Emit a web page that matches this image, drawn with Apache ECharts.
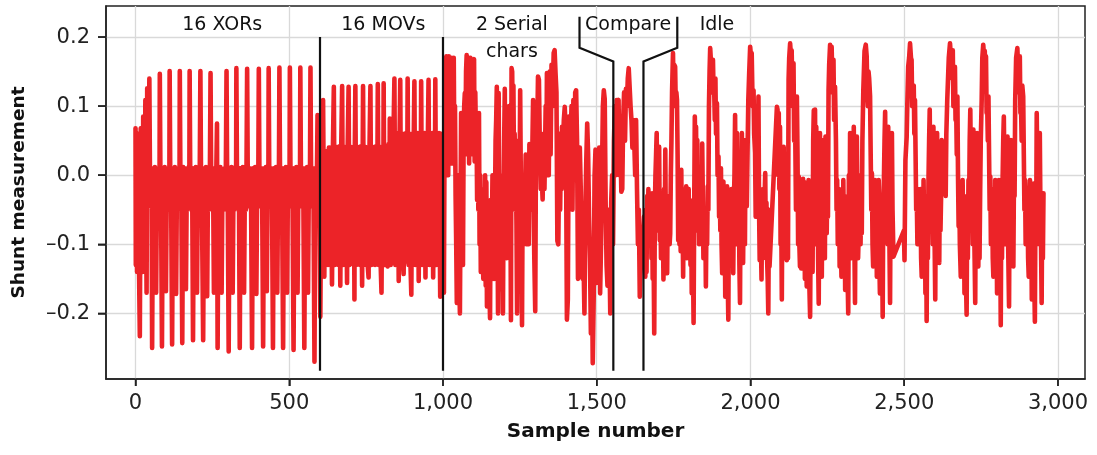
<!DOCTYPE html>
<html>
<head>
<meta charset="utf-8">
<script src="https://cdn.jsdelivr.net/npm/echarts@6.0.0/dist/echarts.min.js"></script>
<style>
html, body { margin: 0; padding: 0; background: #fff; }
#main { width: 1097px; height: 455px; }
</style>
</head>
<body>
<div id="main"></div>
<script>
// shunt trace as [sample, value]
var xorTrace = [
  [0,0.068],[1,-0.13],[3,-0.01],[5,-0.14],[8,0.06],[11,-0.12],[14,-0.233],[17,0.068],[19,-0.05],[21,0.0],[23,-0.14],[25,0.085],[27,-0.03],[29,-0.12],[32,0.109],[34,-0.02],[36,-0.17],[38,0.126],[40,-0.03],[43,0.0],
  [45,0.140],[47,0.0],[50,-0.045],[52,0.01],[54,-0.25],[57,0.008],[60,-0.05],[63,0.012],[67,-0.17],[70,0.004],[73,-0.048],[76,0.01],[78,-0.035],
  [79,0.147],[81,0.0],[83,-0.04],[86,-0.248],[89,0.01],[92,-0.05],[95,0.012],[99,-0.168],[102,0.006],[105,-0.05],[108,0.01],[110,-0.03],
  [111,0.151],[113,0.0],[116,-0.045],[119,-0.245],[122,0.01],[125,-0.05],[128,0.012],[132,-0.172],[135,0.005],[138,-0.048],[141,0.01],[143,-0.035],
  [144,0.151],[146,-0.005],[149,-0.04],[152,-0.243],[155,0.012],[158,-0.05],[161,0.01],[164,-0.165],[167,0.004],[170,-0.05],[173,0.012],[175,-0.03],
  [176,0.151],[178,0.0],[182,-0.045],[184,0.01],[187,-0.239],[190,0.01],[193,-0.05],[196,0.012],[200,-0.17],[203,0.005],[206,-0.048],[209,0.01],
  [211,0.151],[213,0.0],[216,-0.045],[220,-0.239],[223,0.01],[226,-0.05],[229,0.012],[233,-0.175],[236,0.004],[239,-0.05],[242,0.01],
  [244,0.148],[246,0.0],[249,-0.045],[252,0.01],[255,-0.17],[258,0.005],[261,-0.05],[265,0.075],[267,-0.25],[270,0.01],[273,-0.05],[276,0.012],[280,-0.17],[283,0.005],[287,-0.05],[290,0.01],[293,-0.04],
  [296,0.151],[298,0.0],[300,-0.04],[303,-0.255],[306,0.01],[309,-0.05],[312,0.012],[316,-0.17],[319,0.005],[322,-0.05],[325,0.012],[327,-0.03],
  [328,0.155],[330,0.0],[333,-0.045],[336,0.01],[339,-0.25],[342,0.01],[346,-0.05],[349,0.012],[353,-0.17],[356,0.005],[359,-0.05],[361,0.01],
  [363,0.154],[365,0.0],[369,-0.045],[372,0.01],[376,-0.05],[379,-0.25],[382,0.01],[386,-0.05],[389,0.012],[393,-0.172],[396,0.005],[399,-0.04],
  [401,0.154],[403,0.0],[406,-0.045],[409,0.01],[412,-0.04],[415,-0.248],[418,0.01],[421,-0.05],[424,0.012],[427,-0.168],[430,0.005],[432,-0.035],
  [433,0.155],[435,0.0],[438,-0.045],[441,0.01],[444,-0.04],[447,-0.25],[450,0.01],[454,-0.05],[457,0.012],[461,-0.17],[464,0.005],[466,-0.04],
  [468,0.156],[470,0.0],[473,-0.045],[476,0.01],[480,-0.25],[483,0.01],[486,-0.05],[489,0.012],[493,-0.17],[496,0.005],[499,-0.045],[501,0.0],
  [502,0.156],[504,0.0],[507,-0.045],[510,0.01],[514,-0.253],[517,0.01],[520,-0.05],[523,0.012],[527,-0.17],[530,0.005],[533,-0.045],[535,0.0],
  [536,0.156],[538,0.0],[541,-0.045],[544,0.01],[546,-0.04],[549,-0.25],[552,0.01],[555,-0.05],[558,0.012],[561,-0.17],[564,0.005],[567,-0.04],
  [569,0.156],[571,0.0],[574,-0.045],[577,0.01],[579,-0.04],[582,-0.27],[585,0.01],[588,-0.05],[590,0.0],[592,0.087],[595,-0.04],[598,0.0],[601,-0.205]
];

var movTrace = [
  [604,-0.02],[607,0.05],[610,0.109],[614,-0.147],[617,0.02],[620,-0.12],[623,0.035],[626,-0.13],[629,0.04],[632,-0.125],[635,0.04],[639,-0.158],[642,0.04],
  [645,0.128],[648,-0.13],[651,0.041],[654,-0.125],[657,0.04],[660,-0.13],[663,0.042],[666,-0.16],[669,0.04],
  [672,0.129],[675,-0.13],[678,0.041],[681,-0.125],[684,0.04],[688,-0.156],[690,0.04],
  [693,0.128],[696,-0.13],[699,0.041],[702,-0.128],[705,0.04],[708,-0.125],[710,0.041],[712,-0.18],[713,0.03],
  [715,0.129],[718,-0.13],[721,0.041],[724,-0.125],[727,0.04],[730,-0.13],[733,0.042],[737,-0.16],[739,0.04],
  [740,0.129],[743,-0.13],[746,0.041],[749,-0.125],[752,0.04],[755,-0.13],[758,-0.148],[761,0.04],
  [764,0.129],[767,-0.13],[770,0.041],[773,-0.125],[776,0.04],[779,-0.13],[782,0.042],[785,-0.125],[787,0.04],
  [788,0.132],[791,-0.13],[794,0.041],[797,-0.125],[800,-0.17],[803,0.04],[806,-0.02],
  [807,0.133],[810,-0.13],[813,0.041],[816,-0.125],[820,-0.132],[823,0.045],[826,-0.05],
  [827,0.082],[830,-0.13],[833,0.06],[836,-0.125],[839,0.06],
  [842,0.14],[845,-0.13],[848,0.06],[851,-0.125],[853,0.061],[856,-0.153],[859,0.06],
  [861,0.138],[864,-0.13],[867,0.06],[870,-0.128],[872,-0.143],[875,0.06],[878,-0.125],[881,0.061],[883,-0.1],
  [885,0.14],[888,-0.13],[891,0.06],[894,-0.125],[897,-0.173],[900,0.06],[903,-0.13],[905,0.058],
  [907,0.136],[910,-0.13],[913,0.06],[916,-0.125],[918,0.061],[921,-0.153],[924,0.06],[927,-0.12],
  [929,0.136],[932,-0.13],[935,0.06],[938,-0.125],[940,0.061],[943,-0.148],[946,0.06],[949,-0.13],[951,0.06],
  [953,0.138],[956,-0.13],[959,0.06],[962,-0.125],[965,0.061],[968,-0.148],[971,0.06],[973,-0.1],
  [975,0.139],[978,-0.13],[981,0.06],[984,-0.125],[987,0.061],[991,-0.176],[994,0.06],[997,-0.13],[1000,0.03]
];

var serialTrace = [
  [1003,-0.17],[1005,0.05],[1007,0.17],[1009,0.02],[1011,0.172],[1013,0.05],[1015,0.16],[1017,0.0],[1019,0.172],[1021,0.02],[1023,0.16],[1025,0.03],[1027,0.17],[1029,0.017],[1031,0.165],[1033,0.05],[1035,0.17],[1037,0.02],[1039,0.1],[1041,-0.03],[1043,-0.1],[1045,-0.185],[1047,-0.05],[1049,0.0],[1051,-0.12],[1053,-0.15],[1055,-0.2],[1057,-0.05],[1059,0.09],[1061,0.0],[1063,-0.1],[1065,-0.13],[1067,0.05],[1069,0.1],[1071,0.119],[1073,0.05],[1075,0.15],[1077,0.174],[1079,0.03],[1081,0.16],[1083,0.17],[1085,0.017],[1087,0.14],[1089,0.17],[1091,0.03],[1093,0.1],[1095,0.14],[1097,0.05],[1099,0.164],[1101,0.168],[1103,0.02],[1105,0.12],[1107,0.06],[1109,0.08],[1111,-0.036],[1113,0.056],[1115,-0.05],[1117,0.09],[1119,-0.1],[1121,0.0],[1123,-0.14],[1125,-0.03],[1127,-0.12],[1129,-0.05],[1131,-0.15],[1133,-0.02],[1135,-0.1],[1137,0.0],[1139,-0.16],[1141,-0.01],[1143,-0.19],[1145,-0.05],[1147,-0.15],[1149,-0.05],[1151,-0.16],[1153,-0.207],[1155,-0.036],[1157,-0.15],[1159,-0.08],[1161,0.0],[1163,-0.15],[1165,-0.03],[1167,-0.15],[1169,-0.05],[1171,0.05],[1173,0.08],[1175,0.128],[1177,-0.05],[1179,-0.2],[1181,0.119],[1183,-0.05],[1185,-0.165],[1187,0.0],[1189,-0.12],[1191,-0.02],[1193,-0.1],[1195,-0.2],[1197,-0.04],[1199,0.05],[1201,0.125],[1203,-0.1],[1205,0.03],[1207,-0.12],[1209,0.06],[1211,-0.05],[1213,0.06],[1215,0.1],[1217,-0.03],[1219,0.0],[1221,-0.21],[1223,0.155],[1225,0.15],[1227,0.06],[1229,0.13],[1231,0.0],[1233,0.06],[1235,-0.05],[1237,0.012],[1239,-0.07],[1241,-0.2],[1243,0.05],[1245,-0.05],[1247,0.05],[1249,-0.03],[1251,0.123],[1253,0.0],[1255,-0.1],[1257,-0.217],[1259,-0.03],[1261,-0.08],[1263,-0.01],[1265,-0.08],[1267,-0.02],[1269,0.03],[1271,-0.1],[1273,0.0],[1275,-0.1],[1277,0.0],[1279,-0.1],[1281,0.045],[1283,-0.03],[1285,0.02],[1287,-0.05],[1289,0.0],[1291,0.05],[1293,0.109],[1295,-0.05],[1297,-0.12],
  [1300,-0.197],[1302,0.0],[1303,0.061],[1306,0.05],[1309,0.143],[1312,0.138],[1315,0.04],[1318,-0.02],[1321,0.0],[1324,-0.035],[1327,0.06],[1330,-0.02],[1334,0.1],[1336,0.0],[1338,0.148],[1341,0.12],[1344,0.0],[1347,0.15],[1350,0.03],[1353,0.16],[1356,0.1],[1360,0.177],[1363,0.181],[1366,0.148],[1369,0.12],[1372,-0.095],[1375,-0.1],[1378,0.03],[1381,-0.05],[1384,0.061],[1386,-0.02],[1387,0.07],[1390,0.04],[1393,0.08],[1396,0.099],[1400,0.05],[1403,-0.209],[1406,-0.18],[1409,0.085],[1412,-0.01],[1415,0.05],[1418,0.1],[1421,-0.05],[1424,0.109],[1427,0.02],[1430,0.12],[1433,0.123],[1436,0.05],[1439,-0.15],[1442,-0.05],[1445,0.04],[1448,-0.02],[1451,-0.13],[1454,-0.15],[1457,-0.12],[1460,-0.2],[1463,-0.05],[1466,0.02],[1469,0.075],[1472,0.03],[1475,-0.06],[1478,-0.12],[1481,-0.229],[1484,-0.1],[1487,-0.272],[1490,-0.18],[1493,0.0],[1496,0.037],[1499,-0.156],[1502,0.0],[1505,-0.09],[1508,0.04],[1511,-0.171],[1514,-0.1],[1517,0.0],[1520,0.1],[1523,0.123],[1526,0.11],[1529,-0.04],[1532,-0.13],[1535,-0.16],[1538,-0.05],[1541,-0.1],[1544,-0.2],[1547,-0.04],[1550,0.0],[1553,-0.1]
];

var compareTrace = [
  [1556,0.05],[1559,0.1],[1562,0.0],[1565,0.109],[1568,0.1],[1571,0.109],[1574,0.0],[1577,0.05],[1580,-0.024],[1583,-0.02],[1586,0.08],[1589,0.12],[1592,0.05],[1595,0.125],[1598,0.1],[1601,0.14],[1604,0.155],[1607,0.153],[1610,0.1],[1613,0.08],[1616,0.04],[1619,0.08],[1622,0.05],[1625,0.0],[1628,0.08],[1631,-0.02],[1634,-0.1],[1637,-0.05],[1640,-0.176],[1643,-0.12],[1646,-0.13],[1649,-0.13]
];

var idleTrace = [
  [1652,-0.13],[1654,-0.06],[1656,-0.12],[1658,-0.147],[1660,-0.05],[1662,-0.14],[1664,-0.03],[1666,-0.1],[1668,-0.02],[1670,-0.1],[1672,-0.04],[1674,-0.084],[1676,-0.03],[1678,-0.12],[1680,-0.026],[1682,-0.15],[1684,-0.06],[1687,-0.229],[1689,-0.05],[1691,0.0],[1693,0.03],[1695,0.061],[1697,-0.05],[1699,0.0],[1701,-0.08],[1703,0.041],[1705,-0.094],[1707,-0.03],[1709,-0.12],[1711,-0.05],[1713,-0.12],[1715,-0.06],[1717,-0.151],[1719,-0.02],[1721,-0.1],[1723,0.037],[1725,-0.1],[1727,-0.03],[1729,-0.142],[1731,-0.04],[1733,-0.1],[1735,-0.03],[1737,-0.1],[1739,-0.084],[1741,0.0],[1743,0.05],[1745,0.12],[1748,0.177],
  [1750,0.12],[1752,0.16],[1755,0.157],[1757,0.1],[1759,0.12],[1761,0.109],[1763,0.03],[1765,-0.094],[1767,-0.02],[1769,-0.1],[1771,0.0],[1773,-0.11],[1775,0.008],[1777,-0.1],[1779,-0.04],[1781,-0.147],[1783,-0.03],[1785,-0.12],[1787,-0.02],[1789,-0.1],[1791,-0.016],[1793,-0.12],[1795,-0.03],[1797,-0.08],[1799,-0.02],[1801,-0.12],[1803,-0.036],[1805,-0.13],[1807,-0.05],[1809,-0.171],[1811,-0.05],[1813,-0.12],[1815,-0.214],[1817,-0.05],[1819,0.085],[1821,0.02],[1823,0.07],[1825,-0.05],[1827,0.051],[1829,-0.08],[1831,-0.02],[1833,-0.1],[1835,-0.03],[1837,-0.084],[1839,0.0],[1841,-0.1],[1843,0.046],[1845,-0.03],[1847,-0.12],[1849,-0.055],[1851,-0.12],[1853,-0.06],[1855,-0.161],[1857,-0.06],[1859,-0.1],[1861,-0.016],[1863,-0.05],[1865,0.1],[1867,0.15],[1869,0.184],
  [1872,0.16],[1875,0.12],[1878,0.167],[1880,0.12],[1882,0.123],[1884,0.08],[1886,0.14],[1888,0.06],[1891,0.104],[1893,0.0],[1896,0.027],[1898,-0.06],[1900,-0.01],[1902,-0.08],[1904,0.01],[1906,-0.1],[1908,-0.142],[1910,-0.02],[1912,-0.009],[1914,-0.12],[1916,-0.04],[1918,-0.176],[1920,-0.03],[1922,-0.13],[1924,-0.016],[1926,-0.15],[1928,-0.209],[1930,-0.03],[1932,-0.12],[1934,-0.06],[1936,-0.13],[1938,-0.02],[1940,-0.113],[1942,-0.02],[1944,-0.142],[1946,-0.04],[1948,0.0],[1950,0.087],[1952,-0.05],[1954,-0.1],[1956,0.061],[1958,-0.03],[1960,-0.094],[1962,-0.02],[1964,-0.13],[1966,-0.185],[1968,0.0],[1970,-0.05],[1972,0.061],[1974,-0.05],[1976,-0.127],[1978,-0.03],[1980,0.0],[1982,-0.1],[1984,0.051],[1986,-0.02],[1988,-0.045],[1990,0.02],[1993,0.109],[1996,0.15],[1999,0.186],
  [2002,0.17],[2004,0.177],[2007,0.1],[2010,0.123],[2012,0.06],[2015,0.032],[2017,-0.06],[2019,-0.01],[2021,-0.036],[2024,0.05],[2026,0.114],[2028,-0.05],[2030,-0.123],[2032,-0.02],[2034,-0.1],[2036,-0.151],[2038,-0.03],[2040,-0.12],[2042,-0.02],[2044,-0.1],[2046,-0.03],[2048,0.003],[2050,-0.1],[2052,-0.04],[2054,-0.12],[2056,-0.15],[2058,-0.2],[2060,-0.05],[2062,-0.132],[2086,0.099],[2088,0.095],[2090,0.0],[2092,0.09],[2094,-0.02],[2096,0.07],[2098,-0.1],[2100,-0.05],[2102,-0.18],[2104,0.0],[2106,-0.1],[2108,0.041],[2110,-0.05],[2112,-0.12],[2114,0.003],[2116,-0.08],[2118,-0.123],[2120,0.0],[2122,-0.12],[2124,0.138],[2126,0.17],[2129,0.191],
  [2132,0.17],[2134,0.181],[2137,0.1],[2140,0.162],[2142,0.05],[2145,0.09],[2148,-0.05],[2151,0.114],[2153,0.03],[2155,-0.1],[2157,-0.002],[2159,-0.1],[2161,-0.132],[2163,-0.02],[2165,-0.135],[2167,-0.03],[2169,-0.1],[2171,-0.005],[2173,-0.12],[2175,-0.01],[2177,-0.15],[2179,-0.012],[2181,-0.12],[2183,-0.161],[2185,-0.03],[2187,-0.14],[2189,-0.007],[2191,-0.15],[2194,-0.205],[2196,-0.05],[2198,-0.13],[2200,-0.016],[2202,-0.14],[2204,0.05],[2206,0.094],[2208,-0.05],[2210,0.095],[2212,-0.1],[2214,0.07],[2216,-0.05],[2218,0.06],[2220,-0.12],[2222,-0.186],[2224,0.0],[2226,0.061],[2228,-0.1],[2230,-0.02],[2232,-0.147],[2234,0.0],[2236,-0.1],[2238,0.051],[2240,-0.03],[2242,-0.12],[2244,0.056],[2246,-0.05],[2248,-0.084],[2250,0.0],[2252,-0.06],[2254,0.123],[2256,0.16],[2259,0.189],
  [2262,0.17],[2264,0.186],[2267,0.12],[2270,0.167],[2272,0.08],[2275,0.128],[2278,0.05],[2280,-0.05],[2282,-0.007],[2284,-0.1],[2286,-0.079],[2288,-0.02],[2290,-0.132],[2292,-0.03],[2294,-0.1],[2296,-0.147],[2298,-0.03],[2300,-0.12],[2302,-0.007],[2304,-0.1],[2306,-0.03],[2308,-0.166],[2310,-0.04],[2312,-0.12],[2314,-0.036],[2316,-0.15],[2318,-0.2],[2320,0.0],[2322,-0.1],[2324,0.061],[2326,-0.05],[2328,-0.12],[2330,-0.007],[2332,0.03],[2334,-0.05],[2336,0.07],[2338,-0.1],[2340,-0.185],[2342,0.0],[2344,-0.1],[2346,0.056],[2348,-0.05],[2350,-0.12],[2352,-0.084],[2354,0.0],[2356,-0.036],[2358,-0.1],[2360,-0.03],[2362,-0.084],[2364,0.05],[2367,0.123],[2371,0.18],[2375,0.189],
  [2378,0.172],[2380,0.12],[2382,0.1],[2384,0.15],[2386,0.14],[2389,0.114],[2391,0.03],[2393,-0.05],[2395,0.003],[2397,-0.1],[2399,-0.132],[2401,-0.03],[2403,-0.1],[2405,-0.007],[2407,-0.1],[2409,-0.03],[2411,-0.147],[2413,-0.02],[2415,-0.12],[2417,-0.007],[2419,-0.12],[2421,-0.171],[2423,-0.03],[2425,-0.12],[2427,-0.05],[2430,-0.205],[2432,-0.03],[2434,-0.007],[2436,0.05],[2438,0.092],[2440,-0.03],[2442,-0.074],[2444,0.0],[2446,-0.1],[2448,0.07],[2450,-0.05],[2452,-0.1],[2454,-0.185],[2456,0.0],[2458,-0.1],[2460,0.061],[2462,-0.05],[2465,-0.118],[2499,-0.08],[2501,-0.123],[2504,0.022],[2508,0.055],[2510,0.1],[2513,0.157],[2516,0.17],[2519,0.191],
  [2522,0.17],[2524,0.167],[2526,0.1],[2528,0.12],[2531,0.13],[2533,0.06],[2535,0.109],[2537,0.03],[2539,-0.05],[2541,-0.036],[2543,-0.1],[2545,-0.02],[2547,-0.1],[2549,-0.05],[2551,-0.084],[2553,-0.02],[2555,-0.12],[2557,-0.147],[2559,-0.03],[2561,-0.12],[2563,-0.007],[2565,-0.1],[2567,-0.03],[2569,-0.171],[2571,-0.05],[2573,-0.211],[2575,-0.05],[2577,-0.12],[2579,-0.007],[2581,0.05],[2583,0.095],[2585,-0.05],[2587,0.0],[2589,-0.069],[2591,-0.01],[2593,-0.1],[2595,0.07],[2597,-0.05],[2599,-0.1],[2601,-0.18],[2603,0.0],[2605,-0.1],[2607,0.061],[2609,-0.05],[2611,-0.1],[2614,-0.127],[2616,0.0],[2618,-0.08],[2620,-0.03],[2622,0.051],[2633,0.003],[2635,-0.03],[2637,0.06],[2640,0.109],[2645,0.17],[2649,0.191],
  [2652,0.17],[2654,0.18],[2656,0.14],[2658,0.181],[2660,0.1],[2662,0.12],[2665,0.157],[2667,0.08],[2669,0.1],[2671,0.03],[2673,0.114],[2675,0.0],[2677,-0.074],[2679,-0.02],[2681,-0.1],[2684,-0.147],[2686,-0.03],[2688,-0.12],[2690,-0.007],[2692,-0.1],[2694,-0.03],[2696,-0.171],[2698,-0.05],[2700,-0.13],[2703,-0.202],[2705,-0.03],[2707,-0.12],[2709,-0.007],[2711,-0.05],[2713,0.05],[2715,0.095],[2717,0.0],[2719,-0.074],[2721,0.0],[2723,-0.1],[2725,0.066],[2727,-0.05],[2729,-0.12],[2731,-0.185],[2733,0.0],[2735,-0.1],[2737,0.061],[2739,-0.05],[2741,-0.132],[2743,-0.05],[2745,-0.12],[2747,-0.026],[2749,0.05],[2752,0.109],[2754,0.17],[2757,0.189],
  [2760,0.17],[2762,0.18],[2764,0.13],[2766,0.172],[2768,0.09],[2770,0.1],[2772,0.05],[2774,0.114],[2776,0.03],[2778,-0.05],[2780,-0.002],[2782,-0.1],[2784,-0.084],[2786,-0.02],[2788,-0.12],[2790,-0.147],[2792,-0.03],[2794,-0.12],[2796,-0.007],[2798,-0.1],[2800,-0.03],[2802,-0.171],[2804,-0.03],[2806,-0.12],[2808,-0.007],[2810,-0.12],[2812,-0.05],[2814,-0.217],[2816,-0.03],[2818,-0.12],[2820,-0.007],[2822,0.05],[2824,0.085],[2826,0.0],[2828,-0.1],[2830,-0.084],[2832,0.0],[2834,-0.06],[2836,0.056],[2838,-0.1],[2841,-0.19],[2843,0.0],[2845,-0.1],[2847,0.051],[2849,-0.05],[2851,-0.12],[2853,-0.05],[2855,-0.132],[2857,0.0],[2859,-0.03],[2861,0.109],[2864,0.17],[2868,0.184],
  [2870,0.16],[2872,0.17],[2874,0.12],[2876,0.172],[2878,0.09],[2880,0.1],[2882,0.05],[2884,0.13],[2887,0.114],[2889,0.03],[2891,-0.05],[2893,-0.007],[2895,-0.1],[2897,-0.05],[2899,-0.084],[2901,-0.02],[2903,-0.12],[2905,-0.147],[2907,-0.03],[2909,-0.007],[2911,-0.12],[2913,-0.05],[2915,-0.18],[2917,-0.03],[2919,-0.12],[2921,-0.012],[2923,-0.15],[2925,-0.212],[2927,-0.03],[2929,-0.1],[2931,0.09],[2933,0.0],[2935,-0.079],[2937,-0.01],[2939,-0.1],[2941,0.061],[2943,-0.05],[2945,-0.1],[2947,-0.185],[2949,-0.03],[2951,-0.12],[2953,-0.026]
];

var xTicks = [0, 500, 1000, 1500, 2000, 2500, 3000];
var yTicks = [-0.2, -0.1, 0, 0.1, 0.2];

// section labels and the black marker lines (in data units)
var sectionNames = ['16 XORs', '16 MOVs', '2 Serial\nchars', 'Compare', 'Idle'];
var sectionAt = [[282, 0.2178], [806, 0.2178], [1224, 0.198], [1602, 0.2178], [1891, 0.2178]];
var markerLines = [
  [[600, 0.2], [600, -0.283]],
  [[1000, 0.2], [1000, -0.283]],
  [[1444, 0.2294], [1444, 0.1845], [1554, 0.1647], [1554, -0.283]],
  [[1762, 0.2294], [1762, 0.1845], [1652, 0.1647], [1652, -0.283]]
];

var trace = xorTrace.concat(movTrace, serialTrace, compareTrace, idleTrace);

var FONT = '"DejaVu Sans", sans-serif';
var X_MIN = -96, X_MAX = 3088, Y_MIN = -0.295, Y_MAX = 0.245;

var option = {
  animation: false,
  grid: {
    left: 106, right: 12, top: 6, bottom: 76,
    show: true, borderColor: '#222', borderWidth: 1.5,
    outerBoundsMode: 'none'
  },
  xAxis: {
    type: 'value',
    min: X_MIN, max: X_MAX,
    name: 'Sample number',
    nameLocation: 'middle',
    nameGap: 43,
    nameTextStyle: { fontFamily: FONT, fontWeight: 'bold', fontSize: 20, color: '#111' },
    axisLine: { show: true, onZero: false, lineStyle: { color: '#222', width: 1.5 } },
    axisTick: { show: true, customValues: xTicks, length: 7, lineStyle: { color: '#222', width: 1.5 } },
    axisLabel: {
      customValues: xTicks, margin: 14,
      fontFamily: FONT, fontSize: 21, color: '#222',
      formatter: function (v) { return v.toLocaleString('en-US'); }
    },
    splitLine: { show: true, lineStyle: { color: '#d9d9d9', width: 1.3 } }
  },
  yAxis: {
    type: 'value',
    min: Y_MIN, max: Y_MAX,
    name: 'Shunt measurement',
    nameLocation: 'middle',
    nameRotate: 90,
    nameGap: 77,
    nameTextStyle: { fontFamily: FONT, fontWeight: 'bold', fontSize: 18.5, color: '#111' },
    axisLine: { show: true, onZero: false, lineStyle: { color: '#222', width: 1.5 } },
    axisTick: { show: true, customValues: yTicks, length: 8, lineStyle: { color: '#222', width: 1.5 } },
    axisLabel: {
      customValues: yTicks, margin: 16,
      fontFamily: FONT, fontSize: 21, color: '#222',
      formatter: function (v) { return v.toFixed(1).replace('-', '\u2013'); }
    },
    splitLine: { show: true, lineStyle: { color: '#d9d9d9', width: 1.3 } }
  },
  series: [{
    type: 'line',
    data: trace,
    showSymbol: false,
    symbol: 'none',
    sampling: null,
    lineStyle: { color: '#ec2328', width: 4.6, join: 'round', cap: 'round' },
    z: 3
  }]
};

var chart = echarts.init(document.getElementById('main'));
chart.setOption(option);

// annotations on top, positioned through the grid's own coordinate system
function toPx(p) { return chart.convertToPixel({ gridIndex: 0 }, p); }
var graphics = [];
markerLines.forEach(function (pts) {
  graphics.push({
    type: 'polyline', z: 100,
    shape: { points: pts.map(toPx) },
    style: { stroke: '#111', lineWidth: 2.2, fill: null, lineJoin: 'miter' }
  });
});
sectionNames.forEach(function (name, i) {
  var p = toPx(sectionAt[i]);
  graphics.push({
    type: 'text', z: 101, x: p[0], y: p[1],
    style: { text: name, font: '19px ' + FONT, fill: '#111', align: 'center', verticalAlign: 'middle', lineHeight: 27 }
  });
});
// outward tick marks at the tick values
xTicks.forEach(function (v) {
  var p = toPx([v, Y_MIN]);
  graphics.push({ type: 'line', z: 100, shape: { x1: p[0], y1: p[1], x2: p[0], y2: p[1] + 7 }, style: { stroke: '#222', lineWidth: 1.5 } });
});
yTicks.forEach(function (v) {
  var p = toPx([X_MIN, v]);
  graphics.push({ type: 'line', z: 100, shape: { x1: p[0] - 8, y1: p[1], x2: p[0], y2: p[1] }, style: { stroke: '#222', lineWidth: 1.5 } });
});
chart.setOption({ graphic: graphics });
</script>
</body>
</html>
